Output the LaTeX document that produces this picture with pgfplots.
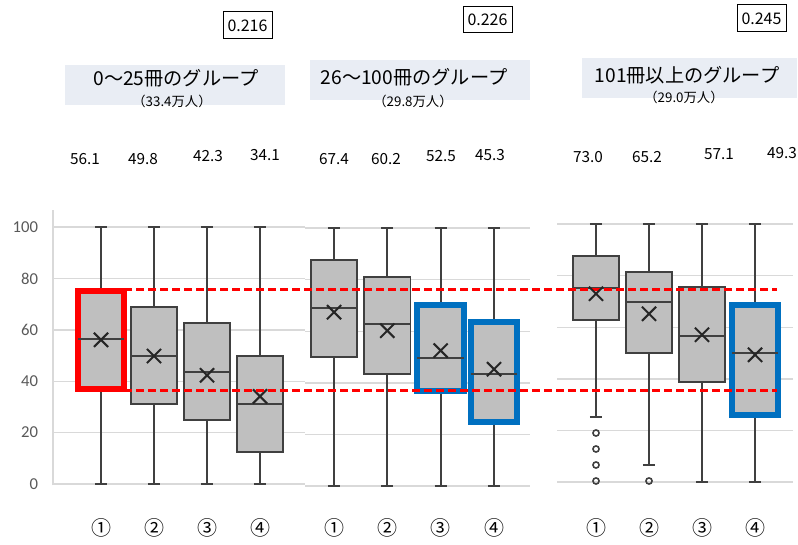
\documentclass[border=0pt]{standalone}
\usepackage{fontspec}
\setmainfont{Noto Sans CJK JP}
\newfontfamily\calibri{Carlito}
\usepackage{pgfplots}
\pgfplotsset{compat=1.18}
\usepgfplotslibrary{statistics}
\definecolor{boxline}{RGB}{64,64,64}
\definecolor{boxfill}{RGB}{191,191,191}
\definecolor{gridc}{RGB}{217,217,217}
\definecolor{ticklab}{RGB}{89,89,89}
\definecolor{hlblue}{RGB}{0,112,192}
\definecolor{titlebg}{RGB}{233,237,244}
\definecolor{meanc}{RGB}{38,38,38}
\pgfplotsset{
  panel/.style={
    scale only axis, anchor=south west, clip=false,
    ymin=-0.5, ymax=106.6,
    ytick={0,20,40,60,80,100},
    ymajorgrids, grid style={draw=gridc, line width=1.1pt},
    axis line style={draw=none},
    major tick length=0pt,
    xtick={1,2,3,4}, xticklabels={①,②,③,④},
    xticklabel style={anchor=center, font=\fontsize{15pt}{16pt}\selectfont},
    /pgf/number format/assume math mode=true,
    boxplot/draw direction=y,
    boxplot/box extend=0.87,
    boxplot/whisker extend=0.23,
    boxplot/every box/.style={draw=boxline, fill=boxfill, line width=1.3pt},
    boxplot/every median/.style={draw=boxline, line width=1.3pt},
    boxplot/every whisker/.style={draw=boxline, line width=1.3pt},
  },
  meanmark/.style={only marks, mark=x, mark size=7.5pt, line width=1.5pt, draw=meanc, mark options={solid, line width=1.5pt}},
  redbox/.style={boxplot/every box/.style={draw=red, fill=boxfill, line width=4.5pt}},
  bluebox/.style={boxplot/every box/.style={draw=hlblue, fill=boxfill, line width=4.5pt}},
}
\begin{document}
\begin{tikzpicture}[x=0.75pt, y=-0.75pt]
\path[use as bounding box] (0,0) rectangle (798,545);
\coordinate (p1) at (53,485.3);
\coordinate (p2) at (305,487.3);
\coordinate (p3) at (557,483.3);
% ---------- panel 1 ----------
\begin{axis}[panel, at={(p1)}, width=189pt, height=206.4pt,
  xmin=0.094, xmax=4.849,
  xticklabel style={yshift=-32pt},
  yticklabels={0,20,40,60,80,100},
  yticklabel style={font=\calibri\fontsize{12.5pt}{14pt}\selectfont, text=ticklab, anchor=east, inner sep=0pt, xshift=-11pt}]
\draw[gridc, line width=0.8pt] (rel axis cs:0,0) -- (rel axis cs:0,1);
\addplot[boxline, redbox, boxplot prepared={draw position=1, lower whisker=0, lower quartile=37, median=56.4, upper quartile=75, upper whisker=100}] coordinates {};
\addplot[boxline, boxplot prepared={draw position=2, lower whisker=0, lower quartile=31.1, median=49.8, upper quartile=68.9, upper whisker=100}] coordinates {};
\addplot[boxline, boxplot prepared={draw position=3, lower whisker=0, lower quartile=24.9, median=43.6, upper quartile=62.6, upper whisker=100}] coordinates {};
\addplot[boxline, boxplot prepared={draw position=4, lower whisker=0, lower quartile=12.5, median=31.1, upper quartile=49.8, upper whisker=100}] coordinates {};
\addplot[meanmark] coordinates {(1,56.1) (2,49.8) (3,42.3) (4,34.1)};
\end{axis}
% ---------- panel 2 ----------
\begin{axis}[panel, at={(p2)}, width=168.75pt, height=207.2pt,
  xmin=0.456, xmax=4.675,
  xticklabel style={yshift=-30.5pt},
  yticklabels={}]
\addplot[boxline, boxplot prepared={draw position=1, lower whisker=0, lower quartile=50, median=69, upper quartile=87.6, upper whisker=100}] coordinates {};
\addplot[boxline, boxplot prepared={draw position=2, lower whisker=0, lower quartile=43.4, median=62.8, upper quartile=81, upper whisker=100}] coordinates {};
\addplot[boxline, bluebox, boxplot prepared={draw position=3, lower whisker=0, lower quartile=37, median=49.6, upper quartile=70, upper whisker=100}] coordinates {};
\addplot[boxline, bluebox, boxplot prepared={draw position=4, lower whisker=0, lower quartile=24.8, median=43.4, upper quartile=63.6, upper whisker=100}] coordinates {};
\addplot[meanmark] coordinates {(1,67.4) (2,60.2) (3,52.5) (4,45.3)};
\end{axis}
% ---------- panel 3 ----------
\begin{axis}[panel, at={(p3)}, width=177pt, height=207.2pt,
  xmin=0.264, xmax=4.717,
  xticklabel style={yshift=-33.5pt},
  yticklabels={}]
\addplot[boxline, boxplot prepared={draw position=1, lower whisker=25.2, lower quartile=62.8, median=75.2, upper quartile=87.6, upper whisker=100}] coordinates {};
\addplot[boxline, boxplot prepared={draw position=2, lower whisker=6.6, lower quartile=50, median=69.8, upper quartile=81.4, upper whisker=100}] coordinates {};
\addplot[boxline, boxplot prepared={draw position=3, lower whisker=0, lower quartile=38.8, median=56.6, upper quartile=75.6, upper whisker=100}] coordinates {};
\addplot[boxline, bluebox, boxplot prepared={draw position=4, lower whisker=0, lower quartile=26, median=50, upper quartile=68.6, upper whisker=100}] coordinates {};
\addplot[meanmark] coordinates {(1,73.0) (2,65.2) (3,57.1) (4,49.3)};
\addplot[only marks, mark=o, mark size=2.3pt, draw=boxline, fill=white, line width=1.2pt] coordinates {(1,19) (1,12.8) (1,6.6) (1,0.4) (2,0.4)};
\addplot[red, line width=2.2pt, dash pattern=on 6pt off 3pt, forget plot] coordinates {(-7.9,74.8) (4.415,74.8)};
\addplot[red, line width=2.2pt, dash pattern=on 6pt off 3pt, forget plot] coordinates {(-7.9,35.3) (4.415,35.3)};
\end{axis}
% ---------- titles ----------
\fill[titlebg] (65,65) rectangle (285,105);
\fill[titlebg] (310,60) rectangle (530,100);
\fill[titlebg] (582,58) rectangle (797,98);
\node[font=\fontsize{14.4pt}{16pt}\selectfont] at (176,78) {0～25冊のグループ};
\node[font=\fontsize{10pt}{11pt}\selectfont] at (172,101) {（33.4万人）};
\node[font=\fontsize{14.4pt}{16pt}\selectfont] at (414,77.5) {26～100冊のグループ};
\node[font=\fontsize{10pt}{11pt}\selectfont] at (413,101) {（29.8万人）};
\node[font=\fontsize{14.4pt}{16pt}\selectfont] at (687,75.5) {101冊以上のグループ};
\node[font=\fontsize{10pt}{11pt}\selectfont] at (684,97) {（29.0万人）};
% boxed values
\node[draw, line width=0.75pt, minimum width=36.75pt, minimum height=20.25pt, inner sep=0pt, font=\fontsize{12pt}{13pt}\selectfont] at (247.5,25.5) {0.216};
\node[draw, line width=0.75pt, minimum width=36.75pt, minimum height=19.5pt, inner sep=0pt, font=\fontsize{12pt}{13pt}\selectfont] at (487.5,20) {0.226};
\node[draw, line width=0.75pt, minimum width=36.75pt, minimum height=20.25pt, inner sep=0pt, font=\fontsize{12pt}{13pt}\selectfont] at (761.5,18.5) {0.245};
% mean numbers
\begin{scope}[every node/.style={font=\fontsize{11.5pt}{13pt}\selectfont}]
\node at (85,159) {56.1};
\node at (143,159) {49.8};
\node at (208,156) {42.3};
\node at (265,155) {34.1};
\node at (334,159) {67.4};
\node at (386,159) {60.2};
\node at (441,156) {52.5};
\node at (490,155) {45.3};
\node at (588,157) {73.0};
\node at (647,157) {65.2};
\node at (719,154) {57.1};
\node at (782,153) {49.3};
\end{scope}
\end{tikzpicture}
\end{document}
